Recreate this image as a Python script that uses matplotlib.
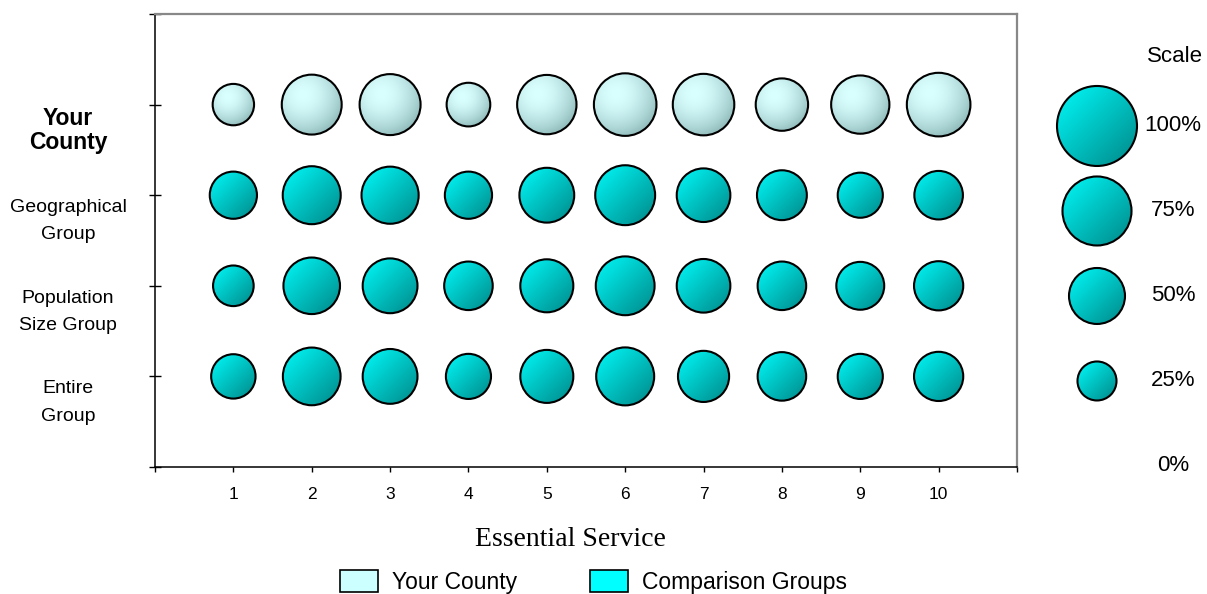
import numpy as np
import matplotlib
matplotlib.use('Agg')
import matplotlib.pyplot as plt
from matplotlib.patches import Ellipse, Patch
from matplotlib.transforms import blended_transform_factory, ScaledTranslation

plt.rcParams['font.family'] = ['Liberation Sans', 'DejaVu Sans']

# essential services 1..10 on x, the four groups on y
services = list(range(1, 11))
group_labels = ['Entire\nGroup', 'Population\nSize Group', 'Geographical\nGroup', 'Your\nCounty']

# share of each service met (0..1)
your_county = [0.28, 0.57, 0.59, 0.31, 0.56, 0.62, 0.60, 0.44, 0.54, 0.64]
geographical = [0.36, 0.535, 0.52, 0.36, 0.48, 0.57, 0.46, 0.40, 0.33, 0.38]
population = [0.27, 0.51, 0.48, 0.38, 0.45, 0.55, 0.46, 0.38, 0.37, 0.39]
entire = [0.32, 0.53, 0.48, 0.33, 0.45, 0.535, 0.42, 0.38, 0.33, 0.39]

scale_levels = [0, 0.25, 0.5, 0.75, 1.0]
scale_labels = ['0%', '25%', '50%', '75%', '100%']

D_FULL = 82  # bubble diameter in pixels for 100%

# gradient fills
N = 120
u, v = np.meshgrid(np.linspace(-1, 1, N), np.linspace(-1, 1, N))

t = np.clip((u - v + 2) / 4, 0, 1)[..., None]
c0 = np.array([0, 250, 250]) / 255
c1 = np.array([0, 135, 135]) / 255
comp_img = c0 * (1 - t) + c1 * t

r = np.sqrt((u + 0.3) ** 2 + (v - 0.35) ** 2)
t = (np.clip(r / 1.45, 0, 1) ** 1.8)[..., None]
l0 = np.array([218, 255, 255]) / 255
l1 = np.array([145, 188, 188]) / 255
county_img = l0 * (1 - t) + l1 * t


def bubble(ax, x, y, val, img):
    if val <= 0:
        return
    d = D_FULL * np.sqrt(val) - 2
    (x0, y0), (x1, y1) = ax.transData.transform([(0, 0), (1, 1)])
    w = d / (x1 - x0)
    h = d / (y1 - y0)
    e = Ellipse((x, y), w, h, fc='none', ec='black', lw=1.5, zorder=3)
    ax.add_patch(e)
    im = ax.imshow(img, extent=[x - w / 2, x + w / 2, y - h / 2, y + h / 2],
                   origin='lower', aspect='auto', interpolation='bilinear', zorder=2)
    im.set_clip_path(e)


fig = plt.figure(figsize=(12.07, 5.94), dpi=100)
ax = fig.add_axes([155 / 1207, 1 - 467 / 594, 862 / 1207, 453 / 594])
ax.set_xlim(0, 11)
ax.set_ylim(0, 5)

rows = [entire, population, geographical, your_county]
for i, row in enumerate(rows):
    img = county_img if i == 3 else comp_img
    for s, val in zip(services, row):
        bubble(ax, s, i + 1, val, img)

ax.set_xlim(0, 11)
ax.set_ylim(0, 5)

for side in ['top', 'right']:
    ax.spines[side].set_color('#888888')
    ax.spines[side].set_linewidth(1.6)
for side in ['left', 'bottom']:
    ax.spines[side].set_color('black')
    ax.spines[side].set_linewidth(1.1)

ax.set_xticks(range(0, 12))
ax.set_xticklabels([''] + [str(s) for s in services] + [''])
ax.tick_params(axis='x', direction='out', length=3.5, width=1, pad=11, labelsize=12.5)
ax.set_yticks(range(0, 6))
ax.set_yticklabels([])
ax.tick_params(axis='y', direction='inout', length=8, width=1)

# row labels sit a little below their ticks
trans = blended_transform_factory(fig.transFigure, ax.transData) + \
    ScaledTranslation(0, -0.26, fig.dpi_scale_trans)
for i, lab in enumerate(group_labels):
    if i == 3:
        ax.text(68 / 1207, i + 1, lab, transform=trans, ha='center', va='center',
                fontsize=16.5, fontweight='bold', linespacing=1.05)
    else:
        ax.text(68 / 1207, i + 1, lab, transform=trans, ha='center', va='center',
                fontsize=14, linespacing=1.8)

fig.text(570 / 1207, 1 - 539 / 594, 'Essential Service', ha='center', va='center',
         fontsize=20, family=['Liberation Serif', 'DejaVu Serif'])

# size key on the right
ax2 = fig.add_axes([1040 / 1207, 1 - 467 / 594, 167 / 1207, 453 / 594])
ax2.set_xlim(0, 1)
ax2.set_ylim(-0.012, -0.012 + 453 / 85)
ax2.axis('off')
for k, (lev, lab) in enumerate(zip(scale_levels, scale_labels)):
    bubble(ax2, 57 / 167, k, lev, comp_img)
    ax2.text(133 / 167, k, lab, ha='center', va='center', fontsize=16)
ax2.set_xlim(0, 1)
ax2.set_ylim(-0.012, -0.012 + 453 / 85)
fig.text(1175 / 1207, 1 - 57 / 594, 'Scale', ha='center', va='center', fontsize=16)

handles = [Patch(fc='#ccffff', ec='black', lw=1.2, label='Your County'),
           Patch(fc='#00ffff', ec='black', lw=1.2, label='Comparison Groups')]
fig.legend(handles=handles, loc='center left', bbox_to_anchor=(340 / 1207, 1 - 582 / 594),
           ncol=2, frameon=False, fontsize=16.5, handlelength=1.65, handleheight=1.05,
           handletextpad=0.6, columnspacing=3.2, borderpad=0, borderaxespad=0)

fig.savefig('out.png', dpi=100)
